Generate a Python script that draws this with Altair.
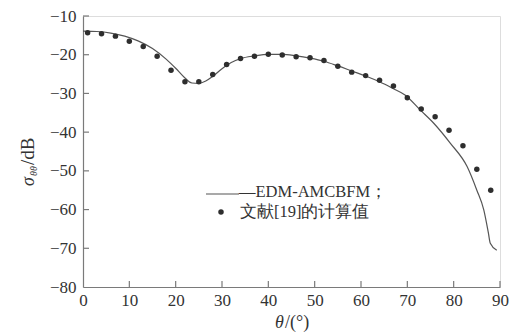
import altair as alt
import pandas as pd

# ---- data ----
line_theta = [0, 3, 6, 9, 12, 15, 18, 20, 22, 23.5, 25, 26.5, 28, 30, 32, 34, 37, 40, 43,
              46, 49, 52, 55, 58, 61, 64, 67, 69.5, 72.8, 75.7, 79.3, 82.9, 85, 86.5, 87.5,
              87.9, 89.3]
line_sigma = [-13.9, -14.0, -14.4, -15.2, -16.5, -18.4, -21.2, -23.5, -26.0, -27.3, -27.4,
              -26.8, -25.6, -23.6, -22.0, -21.0, -20.3, -19.9, -19.9, -20.3, -20.9, -21.7,
              -22.9, -24.2, -25.5, -27.0, -28.8, -30.4, -34.3, -37.7, -42.9, -48.9, -55.0,
              -60.1, -66.1, -68.7, -70.5]

dot_theta = [1, 4, 7, 10, 13, 16, 19, 22, 25, 28, 31, 34, 37, 40, 43, 46, 49, 52, 55, 58,
             61, 64, 67, 70, 73, 76, 79, 82, 85, 88]
dot_sigma = [-14.3, -14.6, -15.2, -16.5, -17.9, -20.4, -24.0, -27.0, -27.0, -25.1, -22.5,
             -21.0, -20.4, -19.9, -20.1, -20.5, -20.8, -21.5, -23.0, -24.5, -25.4, -26.6,
             -28.1, -31.1, -34.0, -36.0, -39.5, -43.5, -49.6, -55.0]

x_ticks = [0, 10, 20, 30, 40, 50, 60, 70, 80, 90]
y_ticks = [-80, -70, -60, -50, -40, -30, -20, -10]

legend_line_label = "—EDM-AMCBFM；"
legend_dot_label = "文献[19]的计算值"

W, H = 417, 271
FONT = "Liberation Serif"
AX = "#7a7a7a"
TXT = "#333333"

line_df = pd.DataFrame({"theta": line_theta, "sigma": line_sigma})
dot_df = pd.DataFrame({"theta": dot_theta, "sigma": dot_sigma})
xt_df = pd.DataFrame({"v": x_ticks[1:]})
yt_df = pd.DataFrame({"v": y_ticks[1:]})

xs = alt.Scale(domain=[0, 90], nice=False, zero=False)
ys = alt.Scale(domain=[-80, -10], nice=False, zero=False)

x_axis = alt.Axis(values=x_ticks, title=None, grid=False, ticks=False, labelPadding=5,
                  domainColor=AX, domainWidth=1.2, labelFont=FONT, labelFontSize=17,
                  labelColor=TXT, labelFlush=False, labelOverlap=False)
y_axis = alt.Axis(values=y_ticks, title=None, grid=False, ticks=False, labelPadding=7,
                  domainColor=AX, domainWidth=1.2, labelFont=FONT, labelFontSize=17,
                  labelColor=TXT, labelOverlap=False, labelFlush=False)

curve = alt.Chart(line_df).mark_line(color="#555555", strokeWidth=1.2,
                                     interpolate="monotone").encode(
    x=alt.X("theta:Q", scale=xs, axis=x_axis),
    y=alt.Y("sigma:Q", scale=ys, axis=y_axis),
)

dots = alt.Chart(dot_df).mark_point(filled=True, size=30, color="#2e2e2e",
                                    opacity=1).encode(
    x=alt.X("theta:Q", scale=xs, axis=x_axis),
    y=alt.Y("sigma:Q", scale=ys, axis=y_axis),
)

xticks = alt.Chart(xt_df).mark_rule(color=AX, strokeWidth=1.2).encode(
    x=alt.X("v:Q", scale=xs, axis=x_axis), y=alt.value(H), y2=alt.value(H - 6))
yticks = alt.Chart(yt_df).mark_rule(color=AX, strokeWidth=1.2).encode(
    y=alt.Y("v:Q", scale=ys, axis=y_axis), x=alt.value(0), x2=alt.value(6))

# legend
leg_line = alt.Chart(pd.DataFrame({"a": [0]})).mark_rule(color="#555555", strokeWidth=1.2).encode(
    x=alt.value(123), x2=alt.value(156), y=alt.value(178))
leg_dot = alt.Chart(pd.DataFrame({"a": [0]})).mark_point(filled=True, size=30, color="#2e2e2e",
                                                        opacity=1).encode(
    x=alt.value(138), y=alt.value(196))
leg_t1 = alt.Chart(pd.DataFrame({"t": [legend_line_label]})).mark_text(
    font=FONT, fontSize=16.5, color=TXT, align="left", baseline="alphabetic").encode(
    text="t:N", x=alt.value(156), y=alt.value(181))
leg_t2 = alt.Chart(pd.DataFrame({"t": [legend_dot_label]})).mark_text(
    font=FONT, fontSize=16.5, color=TXT, align="left", baseline="alphabetic").encode(
    text="t:N", x=alt.value(157), y=alt.value(201))

# axis titles (with italic symbols and subscript)
def txt(s, x, y, size=17, style="normal", angle=0):
    return alt.Chart(pd.DataFrame({"t": [s]})).mark_text(
        font=FONT, fontSize=size, fontStyle=style, color=TXT, align="left",
        baseline="alphabetic", angle=angle).encode(text="t:N", x=alt.value(x), y=alt.value(y))

xt1 = txt("θ", 192, 312, size=18, style="italic")
xt2 = txt("/(°)", 202, 312, size=18)
yt1 = txt("σ", -49, 170, size=18, style="italic", angle=270)
yt2 = txt("θθ", -46, 160, size=10, style="italic", angle=270)
yt3 = txt("/dB", -49, 149, size=19, angle=270)

chart = alt.layer(curve, dots, xticks, yticks, leg_line, leg_dot, leg_t1, leg_t2,
                  xt1, xt2, yt1, yt2, yt3).properties(
    width=W, height=H,
    autosize=alt.AutoSizeParams(type="none"),
    padding={"left": 75, "top": 8, "right": 9, "bottom": 49},
).configure_view(stroke=None).configure(background="white")

chart.save("out.html", embed_options={"renderer": "svg", "actions": False})
